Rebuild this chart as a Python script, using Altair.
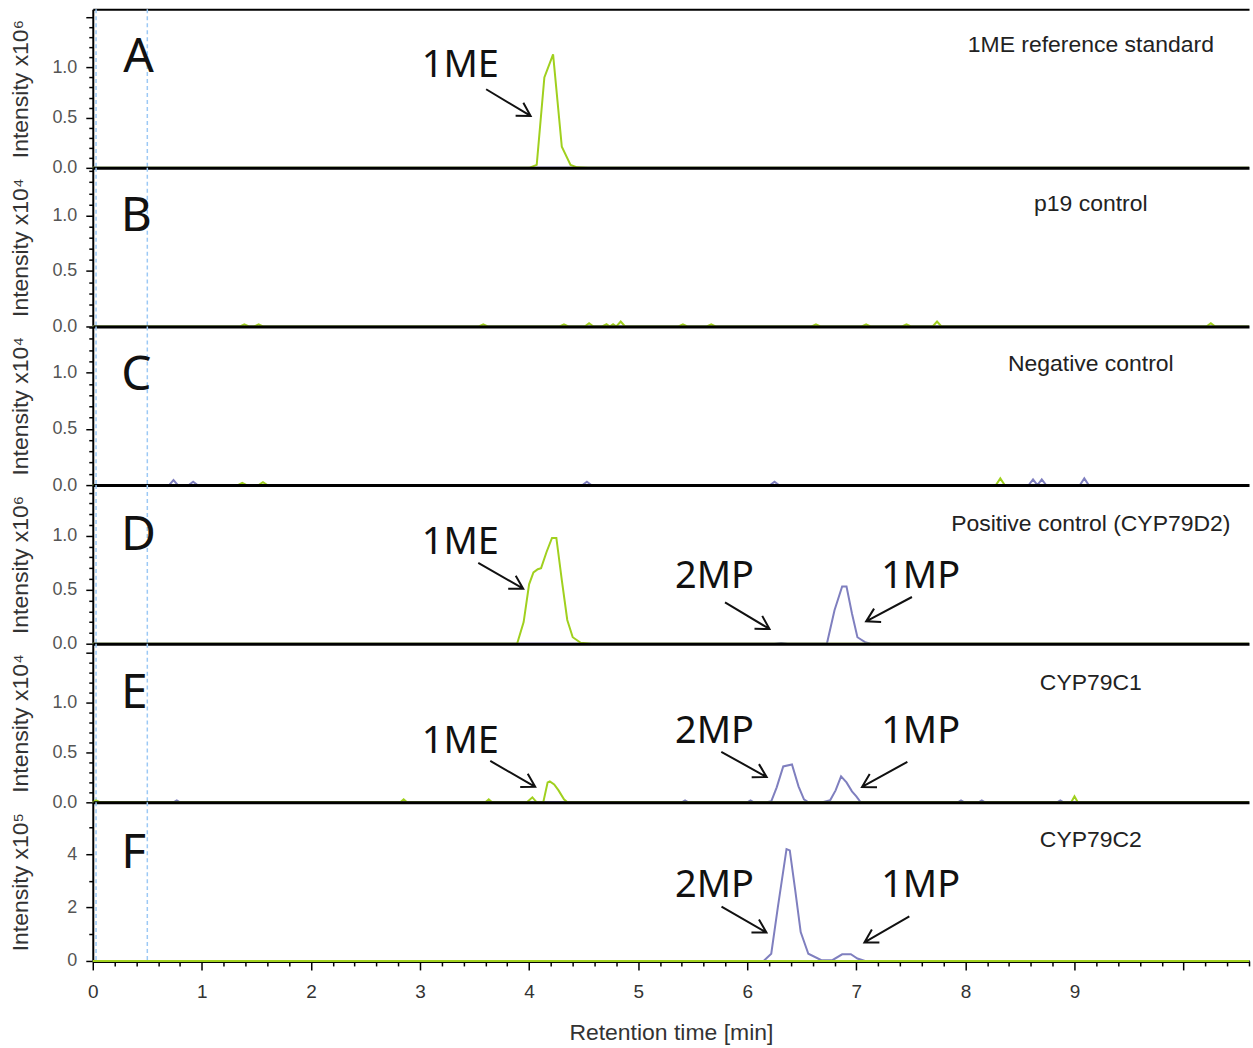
import altair as alt
import pandas as pd

T_MAX = 10.6
GREEN = "#a0d01e"
PURPLE = "#7f7fbf"
DASH_BLUE = "#9cc9f5"

# ---- chromatogram traces: (retention time [min], intensity in panel units)
A_GREEN = [(0, 0), (4.00, 0), (4.07, 0.03), (4.14, 0.90), (4.22, 1.13), (4.30, 0.21),
           (4.38, 0.03), (4.44, 0.005), (4.54, 0), (T_MAX, 0)]
A_PURPLE = [(0, 0), (T_MAX, 0)]

B_GREEN = [(0, 0), (1.35, 0), (1.39, 0.02), (1.43, 0), (1.48, 0), (1.52, 0.02), (1.56, 0),
           (3.54, 0), (3.58, 0.02), (3.62, 0), (4.28, 0), (4.32, 0.02), (4.36, 0),
           (4.51, 0), (4.55, 0.03), (4.59, 0), (4.67, 0), (4.71, 0.02), (4.74, 0),
           (4.77, 0.02), (4.80, 0), (4.84, 0.045), (4.88, 0), (5.37, 0), (5.41, 0.02),
           (5.45, 0), (5.63, 0), (5.67, 0.02), (5.71, 0), (6.59, 0), (6.63, 0.02), (6.67, 0),
           (7.05, 0), (7.09, 0.02), (7.13, 0), (7.42, 0), (7.46, 0.02), (7.50, 0),
           (7.70, 0), (7.74, 0.045), (7.78, 0), (10.21, 0), (10.25, 0.03), (10.29, 0), (T_MAX, 0)]
B_PURPLE = [(0, 0), (T_MAX, 0)]

C_GREEN = [(0, 0), (1.33, 0), (1.37, 0.02), (1.41, 0), (1.52, 0), (1.56, 0.025), (1.60, 0),
           (8.28, 0), (8.32, 0.06), (8.36, 0), (T_MAX, 0)]
C_PURPLE = [(0, 0), (0.70, 0), (0.74, 0.045), (0.78, 0), (0.88, 0), (0.92, 0.03), (0.96, 0),
            (4.49, 0), (4.53, 0.03), (4.57, 0), (6.21, 0), (6.25, 0.03), (6.29, 0),
            (8.58, 0), (8.62, 0.05), (8.66, 0), (8.70, 0.05), (8.74, 0),
            (9.05, 0), (9.09, 0.06), (9.13, 0), (T_MAX, 0)]

D_GREEN = [(0, 0), (3.89, 0), (3.95, 0.20), (4.00, 0.55), (4.04, 0.66), (4.08, 0.69),
           (4.11, 0.70), (4.16, 0.85), (4.21, 0.98), (4.25, 0.98), (4.30, 0.59), (4.35, 0.22),
           (4.40, 0.06), (4.47, 0.01), (4.57, 0), (T_MAX, 0)]
D_PURPLE = [(0, 0), (6.25, 0), (6.31, 0.006), (6.37, 0), (6.73, 0), (6.80, 0.31), (6.87, 0.53),
            (6.91, 0.53), (6.96, 0.28), (7.01, 0.06), (7.08, 0.015), (7.13, 0), (T_MAX, 0)]

E_GREEN = [(0, 0), (0.03, 0.02), (0.07, 0), (2.82, 0), (2.85, 0.03), (2.88, 0), (3.60, 0),
           (3.63, 0.03), (3.66, 0), (3.98, 0), (4.03, 0.05), (4.07, 0), (4.13, 0), (4.17, 0.20),
           (4.19, 0.21), (4.23, 0.18), (4.27, 0.12), (4.32, 0.03), (4.35, 0), (8.97, 0),
           (9.00, 0.06), (9.03, 0), (T_MAX, 0)]
E_PURPLE = [(0, 0), (0.74, 0), (0.77, 0.02), (0.80, 0), (5.40, 0), (5.43, 0.02), (5.46, 0),
            (6.00, 0), (6.03, 0.02), (6.06, 0), (6.18, 0), (6.22, 0.01), (6.27, 0.15),
            (6.33, 0.36), (6.41, 0.38), (6.47, 0.16), (6.52, 0.03), (6.56, 0), (6.69, 0),
            (6.76, 0.02), (6.81, 0.12), (6.86, 0.26), (6.91, 0.20), (6.96, 0.11), (7.00, 0.06),
            (7.04, 0), (7.93, 0), (7.96, 0.02), (7.99, 0), (8.12, 0), (8.15, 0.02), (8.18, 0),
            (8.84, 0), (8.87, 0.02), (8.90, 0), (T_MAX, 0)]

F_GREEN = [(0, 0), (T_MAX, 0)]
F_PURPLE = [(0, 0), (6.15, 0), (6.22, 0.27), (6.28, 2.0), (6.36, 4.19), (6.39, 4.14),
            (6.44, 2.64), (6.49, 1.08), (6.56, 0.27), (6.68, 0.03), (6.78, 0.03), (6.87, 0.25),
            (6.95, 0.25), (7.01, 0.09), (7.08, 0), (T_MAX, 0)]

TRACES = [(A_GREEN, A_PURPLE), (B_GREEN, B_PURPLE), (C_GREEN, C_PURPLE),
          (D_GREEN, D_PURPLE), (E_GREEN, E_PURPLE), (F_GREEN, F_PURPLE)]

# ---- panel info
PANEL_LETTERS = ["A", "B", "C", "D", "E", "F"]
PANEL_NAMES = ["1ME reference standard", "p19 control", "Negative control",
               "Positive control (CYP79D2)", "CYP79C1", "CYP79C2"]
PANEL_EXPONENTS = ["\u2076", "\u2074", "\u2074", "\u2076", "\u2074", "\u2075"]
PANEL_YMAX = [1.58, 1.43, 1.41, 1.47, 1.59, 5.94]
Y_MAJOR = [[0.0, 0.5, 1.0, 1.5], [0.0, 0.5, 1.0], [0.0, 0.5, 1.0], [0.0, 0.5, 1.0],
           [0.0, 0.5, 1.0, 1.5], [0, 2, 4]]
Y_LABELED_MAX = [1.0, 1.0, 1.0, 1.0, 1.0, 4]
Y_MINOR = [[0.1, 0.2, 0.3, 0.4, 0.6, 0.7, 0.8, 0.9, 1.1, 1.2, 1.3, 1.4],
           [0.1, 0.2, 0.3, 0.4, 0.6, 0.7, 0.8, 0.9, 1.1, 1.2, 1.3, 1.4],
           [0.1, 0.2, 0.3, 0.4, 0.6, 0.7, 0.8, 0.9, 1.1, 1.2, 1.3, 1.4],
           [0.1, 0.2, 0.3, 0.4, 0.6, 0.7, 0.8, 0.9, 1.1, 1.2, 1.3, 1.4],
           [0.1, 0.2, 0.3, 0.4, 0.6, 0.7, 0.8, 0.9, 1.1, 1.2, 1.3, 1.4],
           [1, 3, 5]]
Y_FORMAT = [".1f", ".1f", ".1f", ".1f", ".1f", "d"]
X_MAJOR = [0, 1, 2, 3, 4, 5, 6, 7, 8, 9, 10]
X_LABELED_MAX = 9
X_MINOR = [round(k * 0.2, 1) for k in range(54) if k % 5 != 0]

LETTER_X = [0.42, 0.40, 0.40, 0.42, 0.38, 0.375]
LETTER_Y = [1.09, 0.99, 0.97, 1.00, 1.09, 4.0]
NAME_X = 9.15
NAME_Y = [1.22, 1.10, 1.08, 1.11, 1.20, 4.52]

# ---- peak annotations
PEAK_PANEL = [0, 3, 3, 3, 4, 4, 4, 5, 5]
PEAK_LABEL = ["1ME", "1ME", "2MP", "1MP", "1ME", "2MP", "1MP", "2MP", "1MP"]
PEAK_TEXT_X = [3.37, 3.37, 5.70, 7.59, 3.37, 5.70, 7.59, 5.70, 7.59]
PEAK_TEXT_Y = [1.01, 0.93, 0.62, 0.62, 0.60, 0.70, 0.70, 2.80, 2.80]
ARROW_X = [3.81, 3.74, 6.00, 7.30, 3.85, 5.97, 7.26, 5.97, 7.28]
ARROW_Y = [0.65, 0.63, 0.26, 0.32, 0.285, 0.38, 0.28, 1.55, 1.18]
ARROW_ANGLE = [31, 30, 31, 152, 30, 29, 151, 30, 150]

DASH_LINES = [0.03, 0.5]

ARROW_PATH = "M -1 0 L 1 0 M 0.5 -0.29 L 1 0 L 0.5 0.29"

W = 1159
H = 159


def y_axis_major(i):
    return alt.Axis(
        values=Y_MAJOR[i], title="Intensity x10" + PANEL_EXPONENTS[i],
        labelExpr="datum.value <= %s ? format(datum.value, '%s') : ''" % (Y_LABELED_MAX[i], Y_FORMAT[i]),
        labelOverlap=False, labelFlush=False, labelBound=False,
        tickSize=7, tickColor="black", tickWidth=1.5, domainColor="black", domainWidth=2,
        labelColor="#555555", labelFontSize=18, labelPadding=9,
        titleColor="#333333", titleFontSize=23, titleFontWeight="normal",
        titleX=-72, titleY=H / 2, titleAngle=270, titleBaseline="middle", titleAlign="center",
        grid=False,
    )


def y_axis_minor(i):
    return alt.Axis(orient="left", values=Y_MINOR[i], title=None, labels=False, domain=False,
                    tickSize=4, tickColor="black", tickWidth=1.5, grid=False)


def x_axis_bottom(last):
    if last:
        return alt.Axis(
            values=X_MAJOR, title="Retention time [min]",
            labelExpr="datum.value <= %s ? format(datum.value, 'd') : ''" % X_LABELED_MAX,
            labelOverlap=False, labelFlush=False, labelBound=False,
            tickSize=9, tickColor="black", tickWidth=1.5, domainColor="black", domainWidth=3,
            labelColor="#333333", labelFontSize=19, labelPadding=13,
            titleColor="#333333", titleFontSize=23, titleFontWeight="normal",
            titlePadding=20, grid=False,
        )
    return alt.Axis(title=None, labels=False, ticks=False, domainColor="black",
                    domainWidth=3, grid=False, zindex=1)


def panel(i):
    last = i == 5
    xs = alt.Scale(domain=[0, T_MAX], nice=False, zero=False)
    ys = alt.Scale(domain=[0, PANEL_YMAX[i]], nice=False, zero=False)
    green, purple = TRACES[i]
    rows = [{"t": t, "v": v, "series": "purple", "k": j} for j, (t, v) in enumerate(purple)]
    rows += [{"t": t, "v": v, "series": "green", "k": j} for j, (t, v) in enumerate(green)]
    traces = pd.DataFrame(rows)

    rules = alt.Chart(pd.DataFrame({"t": DASH_LINES})).mark_rule(
        color=DASH_BLUE, strokeDash=[4, 3], strokeWidth=1.5
    ).encode(x=alt.X("t:Q", scale=xs, axis=x_axis_bottom(last)))

    lines = alt.Chart(traces).mark_line(strokeWidth=2, interpolate="linear").encode(
        x=alt.X("t:Q", scale=xs, axis=None),
        y=alt.Y("v:Q", scale=ys, axis=y_axis_major(i)),
        color=alt.Color("series:N", scale=alt.Scale(domain=["purple", "green"],
                                                    range=[PURPLE, GREEN]), legend=None),
        order="k:Q",
    )

    if i == 0:
        top_axis = alt.Axis(orient="top", title=None, labels=False, ticks=False,
                            domainColor="black", domainWidth=2, grid=False)
    elif last:
        top_axis = alt.Axis(orient="bottom", values=X_MINOR, title=None, labels=False,
                            domain=False, tickSize=5, tickColor="black", tickWidth=1.5,
                            grid=False)
    else:
        top_axis = None
    letter = alt.Chart(pd.DataFrame({"t": [LETTER_X[i]], "v": [LETTER_Y[i]],
                                     "s": [PANEL_LETTERS[i]]})).mark_text(
        font="Noto Sans", fontSize=48, align="center", baseline="middle", color="#111111"
    ).encode(x=alt.X("t:Q", scale=xs, axis=top_axis), y=alt.Y("v:Q", scale=ys, axis=None),
             text="s:N")

    name = alt.Chart(pd.DataFrame({"t": [NAME_X], "v": [NAME_Y[i]],
                                   "s": [PANEL_NAMES[i]]})).mark_text(
        font="Liberation Sans", fontSize=23, align="center", baseline="middle", color="#222222"
    ).encode(x=alt.X("t:Q", scale=xs, axis=None),
             y=alt.Y("v:Q", scale=ys, axis=y_axis_minor(i)),
             text="s:N")

    layers = [rules, lines, letter, name]

    idx = [j for j, p in enumerate(PEAK_PANEL) if p == i]
    if idx:
        pk = pd.DataFrame({
            "t": [PEAK_TEXT_X[j] for j in idx], "v": [PEAK_TEXT_Y[j] for j in idx],
            "s": [PEAK_LABEL[j] for j in idx]})
        ar = pd.DataFrame({
            "t": [ARROW_X[j] for j in idx], "v": [ARROW_Y[j] for j in idx],
            "a": [ARROW_ANGLE[j] for j in idx]})
        peak_text = alt.Chart(pk).mark_text(
            font="Noto Sans", fontSize=38, align="center", baseline="middle", color="#111111"
        ).encode(x=alt.X("t:Q", scale=xs, axis=None), y=alt.Y("v:Q", scale=ys, axis=None),
                 text="s:N")
        arrows = alt.Chart(ar).mark_point(
            shape=ARROW_PATH, filled=False, stroke="#111111", strokeWidth=2, size=2704,
            opacity=1
        ).encode(x=alt.X("t:Q", scale=xs, axis=None), y=alt.Y("v:Q", scale=ys, axis=None),
                 angle=alt.Angle("a:Q", scale=None))
        layers += [peak_text, arrows]

    return alt.layer(*layers).resolve_axis(x="independent", y="independent").properties(
        width=W, height=H)


chart = alt.vconcat(*[panel(i) for i in range(6)], spacing=0, bounds="flush").properties(
    padding={"left": 10, "top": 7, "right": 0, "bottom": 0}
).configure_view(stroke=None).configure_axis(
    labelFont="Liberation Sans", titleFont="Liberation Sans"
)

chart.save("out.html", embed_options={"renderer": "svg", "actions": False})
